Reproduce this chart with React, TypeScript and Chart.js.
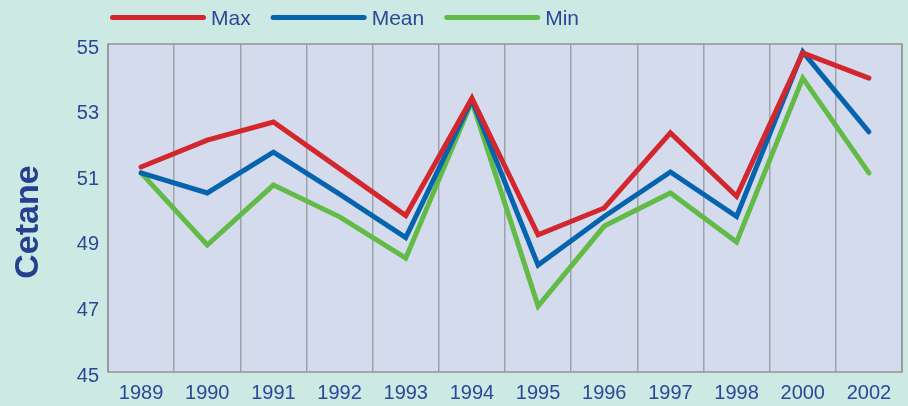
import React, { useEffect, useRef } from "react";
import { Chart, registerables } from "chart.js";

Chart.register(...registerables);

const years = ["1989", "1990", "1991", "1992", "1993", "1994", "1995", "1996", "1997", "1998", "2000", "2002"];
const maxVals = [51.25, 52.07, 52.62, 51.2, 49.77, 53.35, 49.18, 50.0, 52.29, 50.36, 54.73, 53.96];
const meanVals = [51.07, 50.46, 51.7, 50.42, 49.1, 53.3, 48.26, 49.74, 51.1, 49.74, 54.76, 52.32];
const minVals = [51.07, 48.87, 50.7, 49.73, 48.47, 53.25, 47.01, 49.45, 50.46, 48.96, 53.96, 51.07];
const yTicks = [45, 47, 49, 51, 53, 55];
const yTitle = "Cetane";

const BG = "#cde9e3";
const PLOT_BG = "#d3dbec";
const TEXT = "#2d4798";
const TITLE = "#263f8e";
const GRID = "#9ea3ab";
const RED = "#d3262d";
const BLUE = "#0663ae";
const GREEN = "#63bb47";

const plotArea = {
  id: "plotArea",
  beforeDraw(chart: any) {
    const { ctx, chartArea: a } = chart;
    ctx.save();
    ctx.fillStyle = PLOT_BG;
    ctx.fillRect(a.left, a.top, a.right - a.left, a.bottom - a.top);
    ctx.restore();
  },
  beforeDatasetsDraw(chart: any) {
    const { ctx, chartArea: a } = chart;
    ctx.save();
    ctx.strokeStyle = "#8f9499";
    ctx.lineWidth = 1.5;
    ctx.strokeRect(a.left, a.top, a.right - a.left, a.bottom - a.top);
    ctx.restore();
  },
};

const sideTitle = {
  id: "sideTitle",
  afterDraw(chart: any) {
    const { ctx, chartArea: a } = chart;
    ctx.save();
    ctx.translate(28.5, (a.top + a.bottom) / 2 + 14);
    ctx.rotate(-Math.PI / 2);
    ctx.font = 'bold 34px "Liberation Sans"';
    ctx.fillStyle = TITLE;
    ctx.textAlign = "center";
    ctx.textBaseline = "middle";
    ctx.fillText(yTitle, 0, 0);
    ctx.restore();
  },
};

const lineLegend = {
  id: "lineLegend",
  afterDraw(chart: any) {
    const { ctx, chartArea: a } = chart;
    const y = 17.5;
    let x = a.left + 4.5;
    ctx.save();
    ctx.font = '21px "Liberation Sans"';
    ctx.textBaseline = "alphabetic";
    chart.data.datasets.forEach((ds: any) => {
      ctx.strokeStyle = ds.borderColor;
      ctx.lineWidth = ds.borderWidth;
      ctx.lineCap = "round";
      ctx.beginPath();
      ctx.moveTo(x, y);
      ctx.lineTo(x + 91, y);
      ctx.stroke();
      x += 91 + 7.5;
      ctx.fillStyle = TEXT;
      ctx.fillText(ds.label, x, y + 7.5);
      x += ctx.measureText(ds.label).width + 22.5;
    });
    ctx.restore();
  },
};

export default function App() {
  const ref = useRef<HTMLCanvasElement | null>(null);

  useEffect(() => {
    if (!ref.current) return;
    Chart.defaults.font.family = '"Liberation Sans", Arial, sans-serif';
    const mk = (label: string, data: number[], color: string) => ({
      label,
      data,
      borderColor: color,
      backgroundColor: color,
      borderWidth: 5,
      pointRadius: 0,
      pointHoverRadius: 0,
      borderCapStyle: "round" as const,
      borderJoinStyle: "miter" as const,
      tension: 0,
      fill: false,
    });
    const chart = new Chart(ref.current, {
      type: "line",
      data: {
        labels: years,
        datasets: [mk("Max", maxVals, RED), mk("Mean", meanVals, BLUE), mk("Min", minVals, GREEN)],
      },
      plugins: [plotArea, lineLegend, sideTitle],
      options: {
        animation: false,
        responsive: true,
        maintainAspectRatio: false,
        layout: { padding: { top: 44, right: 6, left: 0, bottom: 0 } },
        plugins: {
          legend: { display: false },
          tooltip: { enabled: false },
        },
        scales: {
          x: {
            type: "category",
            offset: true,
            grid: { display: true, offset: true, color: GRID, lineWidth: 1.5, drawTicks: false },
            border: { display: false },
            ticks: { color: TEXT, font: { size: 20 }, padding: 9, maxRotation: 0, autoSkip: false },
            afterFit: (s: any) => {
              s.height = 34;
            },
          },
          y: {
            min: 45,
            max: 55,
            grid: { display: false, drawTicks: false },
            border: { display: false },
            afterBuildTicks: (s: any) => {
              s.ticks = yTicks.map((v) => ({ value: v }));
            },
            ticks: { color: TEXT, font: { size: 20 }, padding: 9, labelOffset: 4 },
            title: { display: false },
            afterFit: (s: any) => {
              s.width = 108;
            },
          },
        },
      },
    });
    return () => chart.destroy();
  }, []);

  return (
    <div style={{ position: "fixed", left: 0, top: 0, width: 908, height: 406, background: BG }}>
      <canvas ref={ref} style={{ width: "100%", height: "100%" }} />
    </div>
  );
}
